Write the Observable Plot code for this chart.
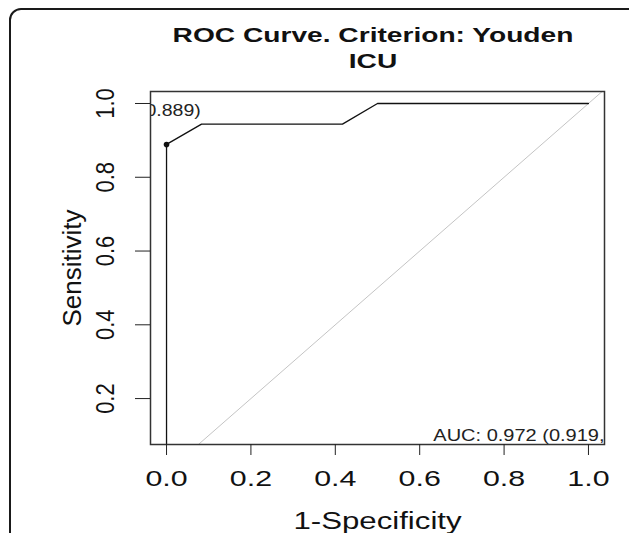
<!DOCTYPE html>
<html><head><meta charset="utf-8">
<script src="https://cdn.jsdelivr.net/npm/d3@7"></script>
<script src="https://cdn.jsdelivr.net/npm/@observablehq/plot@0.6"></script>
<style>
html,body{margin:0;padding:0;background:#fff;}
#wrap{position:relative;width:629px;height:533px;overflow:hidden;font-family:"Liberation Sans",Arial,sans-serif;}
#frame{position:absolute;left:9px;top:8px;width:640px;height:600px;border:2px solid #1a1a1a;border-radius:12px;box-sizing:border-box;}
#chart{position:absolute;left:0;top:0;}
.t{position:absolute;left:0;width:746px;text-align:center;font-weight:bold;font-size:21px;color:#111;transform:scaleX(1.34);transform-origin:373px 0;white-space:nowrap;}
</style></head><body>
<div id="wrap"><div id="frame"></div><div id="chart"></div>
<div class="t" style="top:23px">ROC Curve. Criterion: Youden</div>
<div class="t" style="top:49px">ICU</div>
</div>
<script>
// ROC curve points (1-Specificity, Sensitivity)
const fpr = [0, 0, 0.083, 0.417, 0.5, 1];
const tpr = [0, 0.889, 0.944, 0.944, 1, 1];
// best threshold (Youden)
const bestFpr = [0];
const bestTpr = [0.889];
// chance diagonal
const diagX = [0, 1.1];
const diagY = [0, 1.1];
const xTicks = [0, 0.2, 0.4, 0.6, 0.8, 1.0];
const yTicks = [0.2, 0.4, 0.6, 0.8, 1.0];
const threshLabel = ["0.889)"];
const aucLabel = ["AUC: 0.972 (0.919,"];
const xTitle = "1-Specificity";
const yTitle = "Sensitivity";

const curve = fpr.map((x, i) => ({x, y: tpr[i]}));
const best = bestFpr.map((x, i) => ({x, y: bestTpr[i]}));
const diag = diagX.map((x, i) => ({x, y: diagY[i]}));
const fmt = d3.format(".1f");

const chart = Plot.plot({
  width: 629, height: 533,
  marginLeft: 150, marginRight: 25, marginTop: 91, marginBottom: 89,
  style: {fontFamily: "'Liberation Sans', Arial, sans-serif", color: "#111", background: "transparent"},
  x: {domain: [-0.038, 1.038]},
  y: {domain: [0.0755, 1.0325]},
  marks: [
    Plot.line(diag, {x: "x", y: "y", stroke: "#c4c4c4", strokeWidth: 1, clip: true}),
    Plot.line(curve, {x: "x", y: "y", stroke: "#111", strokeWidth: 1.3, clip: true}),
    Plot.dot(best, {x: "x", y: "y", r: 2.8, fill: "#111", stroke: "none"}),
    Plot.text(threshLabel, {frameAnchor: "top-left", textAnchor: "start", lineAnchor: "middle", dx: -5, dy: 19, fontSize: 16, fill: "#222", clip: true}),
    Plot.text(aucLabel, {frameAnchor: "bottom-right", textAnchor: "end", lineAnchor: "middle", dx: 0, dy: -9, fontSize: 16, fill: "#222", clip: true}),
    Plot.frame({stroke: "#333", strokeWidth: 1.5}),
    Plot.axisX({ticks: xTicks, tickFormat: fmt, tickSize: 11, tickPadding: 15, fontSize: 22, label: null, stroke: "#222"}),
    Plot.axisY({ticks: yTicks, tickFormat: fmt, tickSize: 15, tickPadding: 22, tickRotate: -90, fontSize: 22, label: null, stroke: "#222"}),
    Plot.text([xTitle], {frameAnchor: "bottom", textAnchor: "middle", lineAnchor: "middle", dy: 77, fontSize: 24, fill: "#111"}),
    Plot.text([yTitle], {frameAnchor: "left", textAnchor: "middle", lineAnchor: "middle", rotate: -90, dx: -78, fontSize: 26, fill: "#111"})
  ]
});
document.getElementById("chart").appendChild(chart);
// widen glyphs horizontally like the reference raster
const stretch = {"x-axis tick label": 1.38, "y-axis tick label": 1.15};
chart.querySelectorAll("text").forEach(t => {
  const tr = t.getAttribute("transform") || "";
  const g = t.closest("g[aria-label]");
  const key = g ? g.getAttribute("aria-label") : "";
  let s = stretch[key] ?? 1.3;
  if (t.textContent === threshLabel[0]) s = 1.22;
  if (t.textContent === aucLabel[0]) s = 1.25;
  if (t.textContent === yTitle) return;
  const rotated = /rotate\(/.test(tr);
  t.setAttribute("transform", tr + (rotated ? ` scale(1,${s})` : ` scale(${s},1)`));
});
</script>
</body></html>
